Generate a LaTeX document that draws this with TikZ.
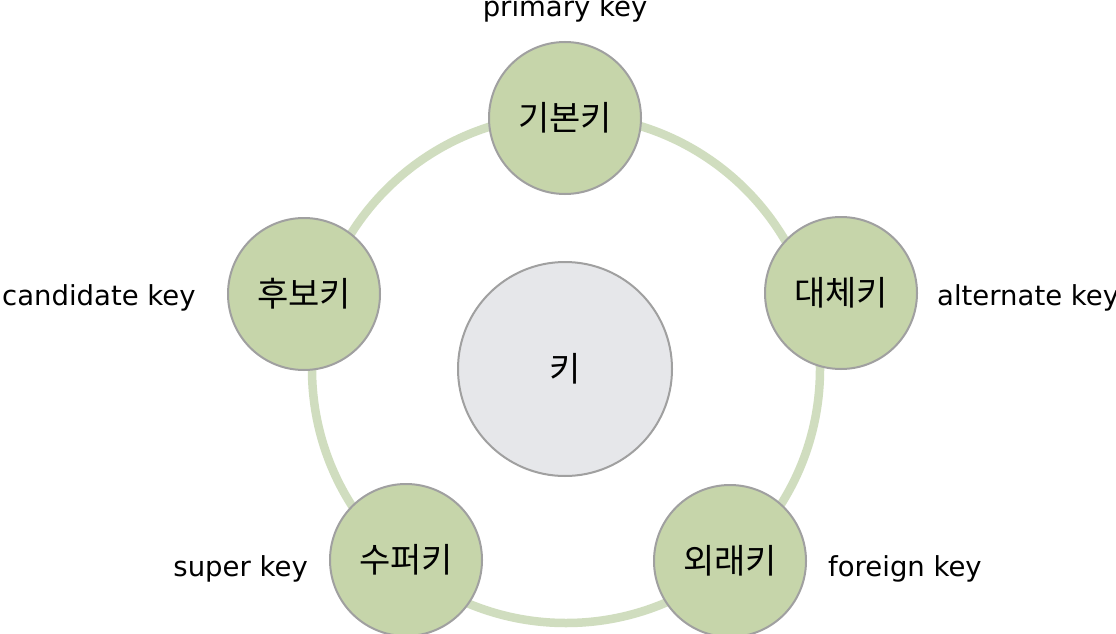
\documentclass[tikz,border=0pt]{standalone}
\usepackage{fontspec}
\setmainfont{DejaVu Sans}
\newfontfamily\kr{Noto Sans CJK KR}
\definecolor{ringgreen}{HTML}{D0DDBF}
\definecolor{keygreen}{HTML}{C6D5AA}
\definecolor{edgegray}{HTML}{A0A0A0}
\definecolor{centergray}{HTML}{E6E7EA}
\tikzset{
  ringstyle/.style={circle, draw=ringgreen, line width=8.5pt, minimum size=508pt, inner sep=0pt},
  keynode/.style={circle, draw=edgegray, fill=keygreen, line width=2pt, minimum size=152pt, inner sep=0pt, font=\kr\fontsize{34}{36}\selectfont},
  centernode/.style={circle, draw=edgegray, fill=centergray, line width=2pt, minimum size=214pt, inner sep=0pt, font=\kr\fontsize{34}{36}\selectfont},
  keylabel/.style={inner sep=0pt, font=\fontsize{27.5}{30}\selectfont, text=black}
}
\begin{document}
\begin{tikzpicture}[x=1pt,y=-1pt]
\useasboundingbox[fill=white] (0,0) rectangle (1116,634);
\node[ringstyle] (ring) at (566,369) {};
\node[centernode] (key) at (565,369) {키};
\node[keynode] (primary) at (565,118) {기본키};
\node[keynode] (alternate) at (841,293) {대체키};
\node[keynode] (foreign) at (730,561) {외래키};
\node[keynode] (super) at (406,560) {수퍼키};
\node[keynode] (candidate) at (304,294) {후보키};
\node[keylabel, anchor=base] (lprimary) at (565,17) {primary key};
\node[keylabel, anchor=base west] (lcandidate) at (2,305) {candidate key};
\node[keylabel, anchor=base west] (lalternate) at (937,305) {alternate key};
\node[keylabel, anchor=base east] (lsuper) at (308,576) {super key};
\node[keylabel, anchor=base west] (lforeign) at (828,576) {foreign key};
\end{tikzpicture}
\end{document}
